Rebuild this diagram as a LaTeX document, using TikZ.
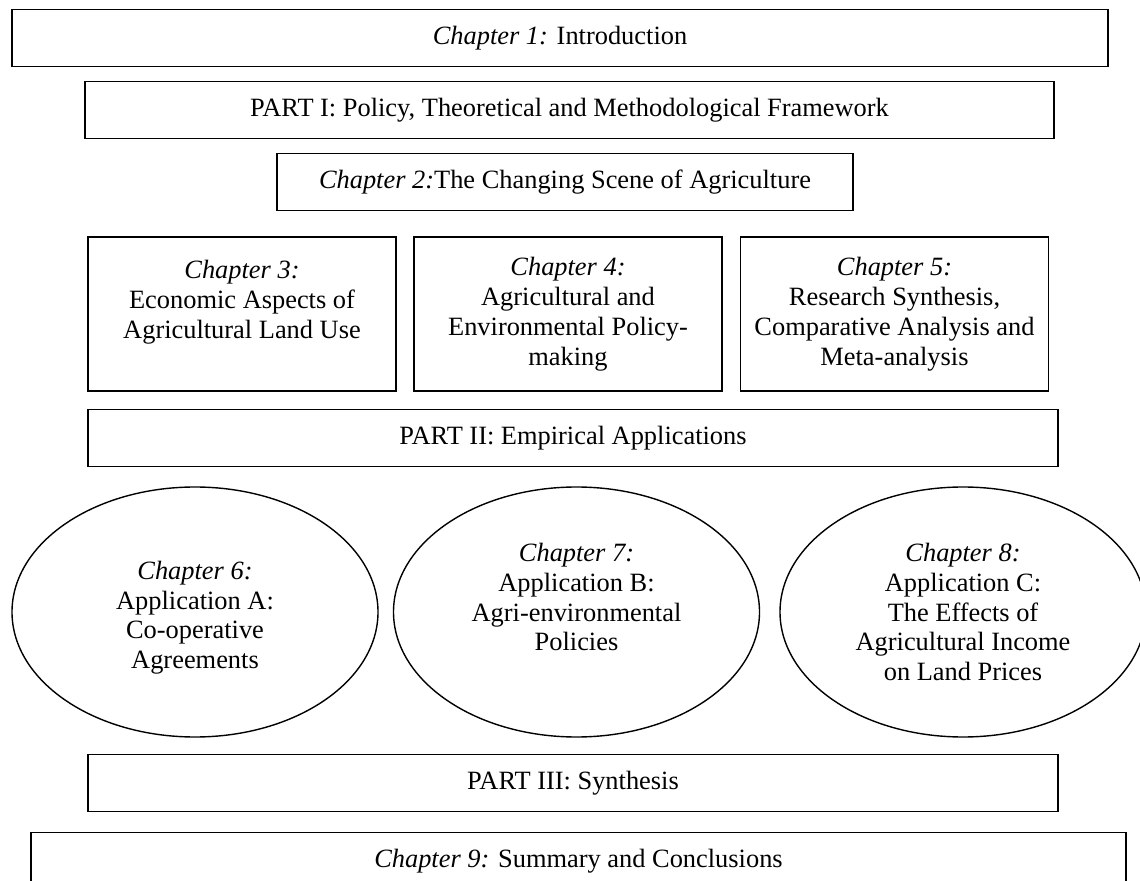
\documentclass[tikz,border=0pt]{standalone}
\usepackage{fontspec}
\setmainfont{Liberation Serif}
\usetikzlibrary{shapes.geometric}
\newcommand{\chapfont}{\fontsize{13.2}{14.9}\selectfont}

\begin{document}
\begin{tikzpicture}[x=0.5pt,y=-0.5pt,
      wide/.style={draw, line width=0.9pt, minimum height=28.5pt,
        inner sep=0pt, font=\chapfont},
      chap/.style={draw, line width=0.9pt, minimum width=154pt,
        minimum height=77pt, inner sep=0pt, align=center, font=\chapfont},
      app/.style={draw, ellipse, line width=0.7pt, minimum width=183pt,
        minimum height=125pt, inner sep=0pt, align=center, font=\chapfont}]
      \useasboundingbox (0,0) rectangle (1140,881);
      \clip (0,0) rectangle (1140,881);
      % introduction and part I
      \node[wide, minimum width=548pt] (intro) at (560,38)
        {\textit{Chapter 1:} Introduction};
      \node[wide, minimum width=484.5pt] (part1) at (569.5,110)
        {PART I: Policy, Theoretical and Methodological Framework};
      \node[wide, minimum width=288pt] (ch2) at (565,182)
        {\textit{Chapter 2:}The Changing Scene of Agriculture};
      \node[chap] (ch3) at (242,314)
        {\textit{Chapter 3:}\\Economic Aspects of\\Agricultural Land Use\\~};
      \node[chap] (ch4) at (568,314)
        {\textit{Chapter 4:}\\Agricultural and\\Environmental Policy-\\making};
      \node[chap] (ch5) at (894.5,314)
        {\textit{Chapter 5:}\\Research Synthesis,\\Comparative Analysis and\\Meta-analysis};
      % part II
      \node[wide, minimum width=485pt] (part2) at (573,438)
        {PART II: Empirical Applications};
      \node[app] (ch6) at (195,612)
        {~\\\textit{Chapter 6:}\\Application A:\\Co-operative\\Agreements};
      \node[app] (ch7) at (576.5,612)
        {\textit{Chapter 7:}\\Application B:\\Agri-environmental\\Policies\\~};
      \node[app] (ch8) at (963,612)
        {\textit{Chapter 8:}\\Application C:\\The Effects of\\Agricultural Income\\on Land Prices};
      % part III
      \node[wide, minimum width=485pt] (part3) at (573,783)
        {PART III: Synthesis};
      \node[wide, minimum width=547.5pt] (ch9) at (578.5,861)
        {\textit{Chapter 9:} Summary and Conclusions};
\end{tikzpicture}
\end{document}
